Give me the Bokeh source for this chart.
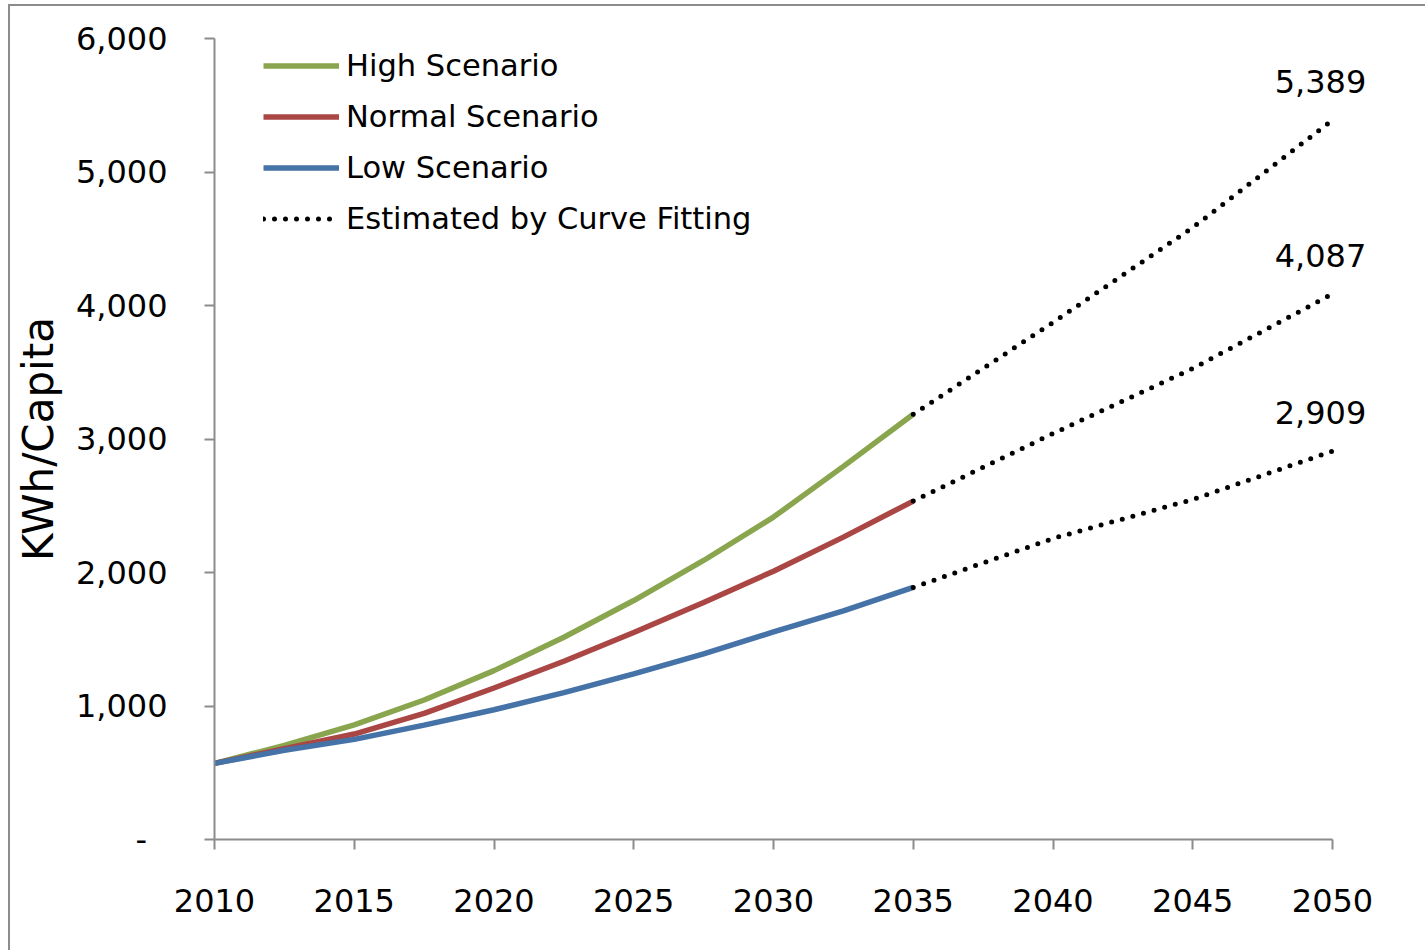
from bokeh.plotting import figure
from bokeh.models import Range1d, FixedTicker, Legend, LegendItem, ColumnDataSource
from bokeh.core.properties import value
from bokeh.embed import file_html
from bokeh.resources import INLINE

# ---- data ----
years = [2010, 2012.5, 2015, 2017.5, 2020, 2022.5, 2025, 2027.5, 2030, 2032.5, 2035]
high = [570, 705, 858, 1045, 1265, 1515, 1790, 2090, 2415, 2795, 3185]
normal = [570, 680, 790, 945, 1135, 1335, 1550, 1775, 2010, 2265, 2535]
low = [570, 668, 750, 857, 972, 1100, 1240, 1390, 1555, 1712, 1888]

fit_years = [2035, 2040, 2045, 2050]
high_fit = [3185, 3873, 4584, 5389]
normal_fit = [2535, 3041, 3528, 4087]
low_fit = [1888, 2255, 2547, 2909]

end_labels = ["5,389", "4,087", "2,909"]
end_values = [5389, 4087, 2909]

x_ticks = [2010, 2015, 2020, 2025, 2030, 2035, 2040, 2045, 2050]
y_ticks = [0, 1000, 2000, 3000, 4000, 5000, 6000]
y_tick_labels = ["-\u00a0\u00a0", "1,000", "2,000", "3,000", "4,000", "5,000", "6,000"]

series_names = ["High Scenario", "Normal Scenario", "Low Scenario", "Estimated by Curve Fitting"]
colors = ["#89A54E", "#AA4643", "#4572A7"]

FONT = "DejaVu Sans"
AXIS_COLOR = "#8c8c8c"

# layout geometry (canvas placed inside a bordered box)
CANVAS_W, CANVAS_H = 1417, 946
FRAME_LEFT, FRAME_TOP, FRAME_BOTTOM = 204, 32, 113
AXIS_PX = 1118  # pixel length of 2010..2050
x_end = 2010 + 40 * (CANVAS_W - FRAME_LEFT) / AXIS_PX

p = figure(width=CANVAS_W, height=CANVAS_H, output_backend="svg", toolbar_location=None,
           x_range=Range1d(2010, x_end), y_range=Range1d(0, 6000),
           min_border_left=FRAME_LEFT, min_border_right=0,
           min_border_top=FRAME_TOP, min_border_bottom=FRAME_BOTTOM)
p.styles = {"border-left": "2px solid #8c8c8c", "border-top": "2px solid #8c8c8c",
            "margin-left": "8px", "margin-top": "4px"}
p.outline_line_color = None
p.xgrid.visible = False
p.ygrid.visible = False
p.background_fill_color = "white"
p.border_fill_color = "white"

# scenario lines
r_high = p.line(years, high, line_color=colors[0], line_width=5.5)
r_norm = p.line(years, normal, line_color=colors[1], line_width=5.5)
r_low = p.line(years, low, line_color=colors[2], line_width=5.5)

# fitted dotted lines
dot_kw = dict(line_color="black", line_width=5, line_dash="0 11", line_cap="round")
r_fit1 = p.line(fit_years, high_fit, **dot_kw)
p.line(fit_years, normal_fit, **dot_kw)
p.line(fit_years, low_fit, **dot_kw)

# end labels
src = ColumnDataSource(dict(x=[fit_years[-1]] * 3, y=end_values, t=end_labels))
p.text(x="x", y="y", text="t", source=src, text_font=value(FONT), text_font_size="32px",
       text_align="center", text_baseline="bottom", x_offset=-12, y_offset=-27, text_color="black")

# axes
for ax in (p.xaxis[0], p.yaxis[0]):
    ax.axis_line_color = AXIS_COLOR
    ax.axis_line_width = 2
    ax.major_tick_line_color = AXIS_COLOR
    ax.major_tick_line_width = 2
    ax.major_tick_in = 0
    ax.major_tick_out = 10
    ax.minor_tick_line_color = None
    ax.major_label_text_font = FONT
    ax.major_label_text_font_size = "32px"
    ax.major_label_text_color = "black"

p.xaxis.ticker = FixedTicker(ticks=x_ticks)
p.xaxis.bounds = (x_ticks[0], x_ticks[-1])
p.xaxis.major_label_standoff = 39
p.yaxis.ticker = FixedTicker(ticks=y_ticks)
p.yaxis.major_label_overrides = {t: l for t, l in zip(y_ticks, y_tick_labels)}
p.yaxis.major_label_standoff = 37
p.yaxis.axis_label = "KWh/Capita"
p.yaxis.axis_label_text_font = FONT
p.yaxis.axis_label_text_font_size = "42px"
p.yaxis.axis_label_text_font_style = "normal"
p.yaxis.axis_label_text_color = "black"
p.yaxis.axis_label_standoff = 10

# legend
legend = Legend(items=[
    LegendItem(label=series_names[0], renderers=[r_high]),
    LegendItem(label=series_names[1], renderers=[r_norm]),
    LegendItem(label=series_names[2], renderers=[r_low]),
    LegendItem(label=series_names[3], renderers=[r_fit1]),
], location=(49, 595), orientation="vertical")
legend.label_text_font = FONT
legend.label_text_font_size = "30.5px"
legend.label_text_color = "black"
legend.label_text_baseline = "middle"
legend.glyph_width = 76
legend.glyph_height = 51
legend.label_height = 51
legend.label_standoff = 7
legend.spacing = 0
legend.padding = 0
legend.margin = 0
legend.border_line_color = None
legend.background_fill_alpha = 0
p.add_layout(legend, "center")

open("out.html", "w").write(file_html(p, INLINE))
